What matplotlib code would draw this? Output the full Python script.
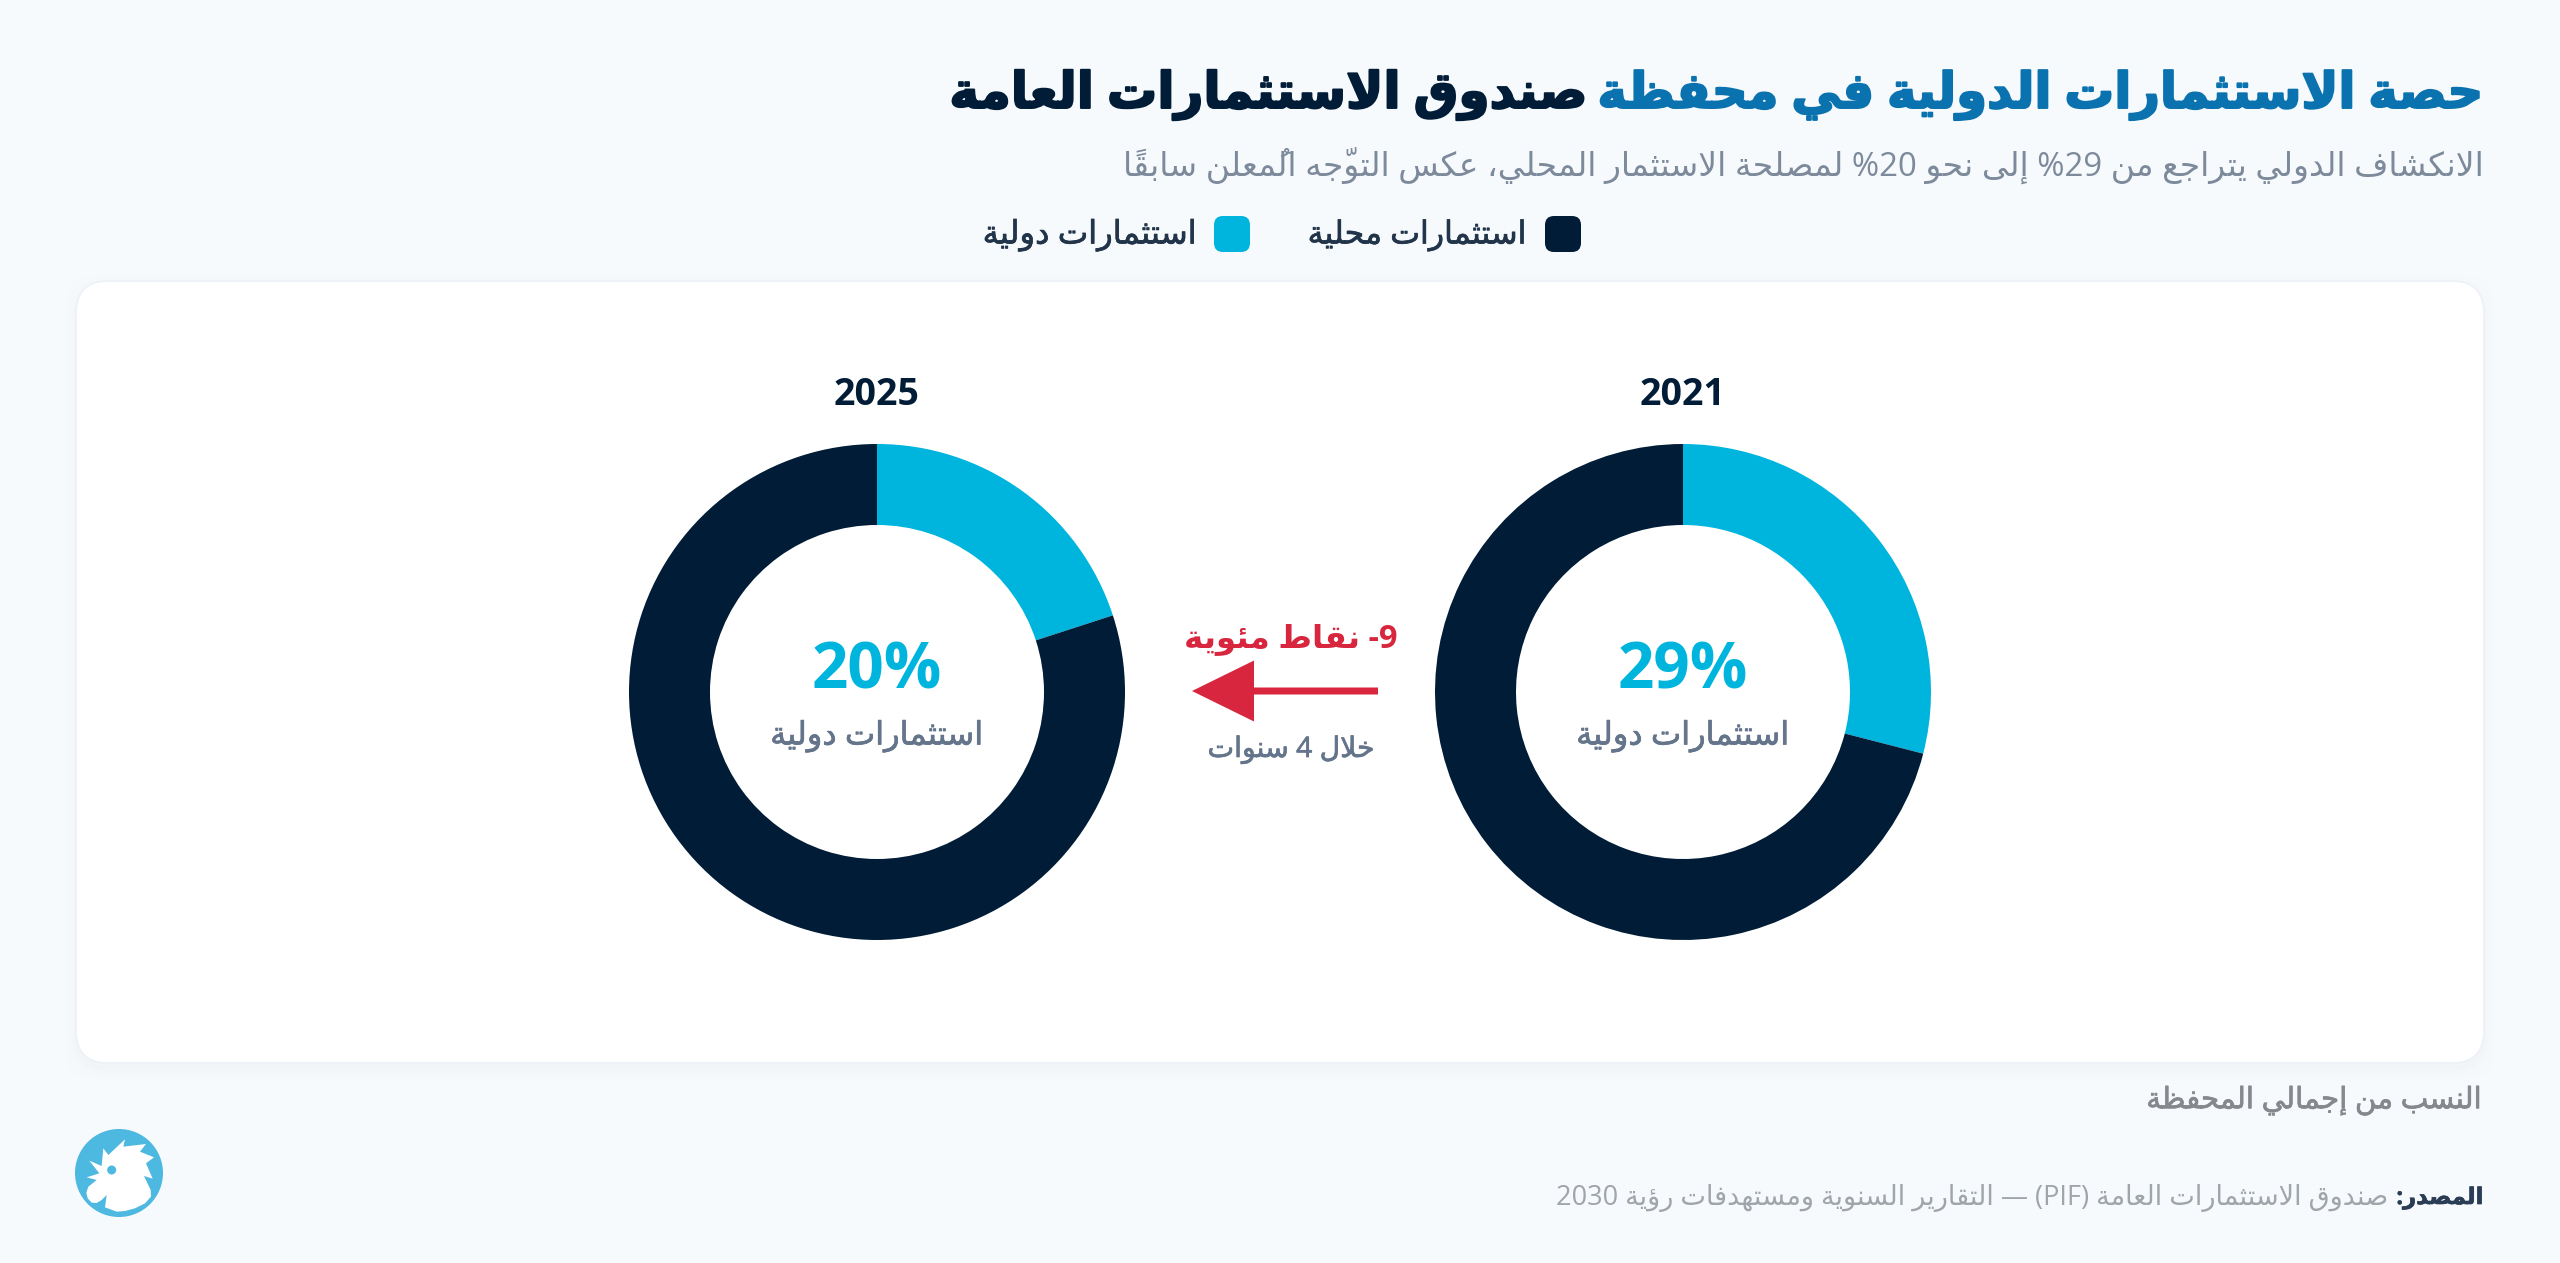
import re
import matplotlib
matplotlib.use("Agg")
import matplotlib.pyplot as plt
import matplotlib.patheffects as pe
from matplotlib.patches import Circle, FancyBboxPatch, Polygon

W, H = 2560, 1263

years = ["2021", "2025"]
intl_share = [29, 20]
intl_label = "استثمارات دولية"
local_label = "استثمارات محلية"
title_blue = "حصة الاستثمارات الدولية في محفظة"
title_dark = "صندوق الاستثمارات العامة"
subtitle = "الانكشاف الدولي يتراجع من 29% إلى نحو 20% لمصلحة الاستثمار المحلي، عكس التوجّه المُعلن سابقاً"
change_label = "نقاط مئوية"
period_label = "خلال 4 سنوات"
note = "النسب من إجمالي المحفظة"
source_head = "المصدر:"
source_text = "صندوق الاستثمارات العامة (PIF) — التقارير السنوية ومستهدفات رؤية 2030"

BG = "#F7FAFD"
NAVY = "#011C36"
CYAN = "#00B5DD"
BLUE = "#0A72AE"
RED = "#D7263D"
SLATE = "#64748B"
FONTS = ["Open Sans", "DejaVu Sans"]

# matplotlib does no arabic shaping, so map letters to presentation forms
# (isolated, final, initial, medial)
DUAL = {"ب": 0xFE8F, "ت": 0xFE95, "ث": 0xFE99, "ج": 0xFE9D, "ح": 0xFEA1, "خ": 0xFEA5,
        "س": 0xFEB1, "ش": 0xFEB5, "ص": 0xFEB9, "ض": 0xFEBD, "ط": 0xFEC1, "ظ": 0xFEC5,
        "ع": 0xFEC9, "غ": 0xFECD, "ف": 0xFED1, "ق": 0xFED5, "ك": 0xFED9, "ل": 0xFEDD,
        "م": 0xFEE1, "ن": 0xFEE5, "ه": 0xFEE9, "ي": 0xFEF1, "ئ": 0xFE89}
RIGHT = {"آ": 0xFE81, "أ": 0xFE83, "ؤ": 0xFE85, "إ": 0xFE87, "ا": 0xFE8D, "ة": 0xFE93,
         "د": 0xFEA9, "ذ": 0xFEAB, "ر": 0xFEAD, "ز": 0xFEAF, "و": 0xFEED, "ى": 0xFEEF}
LAM_ALEF = {"آ": 0xFEF5, "أ": 0xFEF7, "إ": 0xFEF9, "ا": 0xFEFB}
MARKS = "\u064B\u064C\u064D\u064E\u064F\u0650\u0651\u0652"
# the % stays out of the run on purpose: the reference sets it left of the digits
LTR = re.compile(r"[-(]?[0-9A-Za-z]+\)?")


def shape(s):
    clusters = []
    i = 0
    prev_joins = False
    while i < len(s):
        m = LTR.match(s, i)
        if m:
            clusters.append(m.group())
            i = m.end()
            prev_joins = False
            continue
        c = s[i]
        if c in MARKS:
            clusters[-1] += c
            i += 1
            continue
        j = i + 1
        while j < len(s) and s[j] in MARKS:
            j += 1
        nxt = s[j] if j < len(s) else ""
        if c == "ل" and nxt in LAM_ALEF:
            clusters.append(chr(LAM_ALEF[nxt] + (1 if prev_joins else 0)))
            i = j + 1
            prev_joins = False
            continue
        if c in DUAL:
            next_joins = nxt != "" and (nxt in DUAL or nxt in RIGHT)
            form = {(False, False): 0, (True, False): 1, (False, True): 2, (True, True): 3}[(prev_joins, next_joins)]
            clusters.append(chr(DUAL[c] + form))
            prev_joins = True
        elif c in RIGHT:
            clusters.append(chr(RIGHT[c] + (1 if prev_joins else 0)))
            prev_joins = False
        else:
            clusters.append(c)
            prev_joins = False
        i += 1
    return "".join(reversed(clusters))


fig = plt.figure(figsize=(W / 100, H / 100), dpi=100, facecolor=BG)
ax = fig.add_axes([0, 0, 1, 1])
ax.set_xlim(0, W)
ax.set_ylim(H, 0)
ax.axis("off")
renderer = fig.canvas.get_renderer()


def put(x, y, s, width=None, size=20, color=NAVY, weight="normal", ha="center", stroke=0):
    # width is the pixel width wanted, the size gets scaled to reach it
    t = ax.text(x, y, shape(s), fontsize=size, color=color, fontweight=weight,
                ha=ha, va="center", family=FONTS)
    if width:
        t.set_fontsize(size * width / t.get_window_extent(renderer).width)
    if stroke:
        t.set_path_effects([pe.withStroke(linewidth=stroke, foreground=color)])
    return t


# card with soft shadow
for grow, alpha in [(12, 0.003), (8, 0.004), (4, 0.005), (2, 0.006)]:
    ax.add_patch(FancyBboxPatch((76 - grow, 281 - grow + 6), 2408 + 2 * grow, 782 + 2 * grow,
                                boxstyle="round,pad=0,rounding_size=34", fc="#1A3350", ec="none", alpha=alpha))
ax.add_patch(FancyBboxPatch((76, 281), 2408, 782, boxstyle="round,pad=0,rounding_size=32",
                            fc="white", ec="#EDF1F5", lw=1.2))

# header
put(2484, 95, title_blue, width=885, color=BLUE, weight="bold", ha="right", stroke=1.5)
put(1587, 95, title_dark, width=638, color=NAVY, weight="bold", ha="right", stroke=1.5)
put(2484, 165, subtitle, width=1359, color="#7C8A9B", ha="right")

# legend
for x0, col, lab, right, wid in [(1545, NAVY, local_label, 1527, 219), (1214, CYAN, intl_label, 1197, 214)]:
    ax.add_patch(FancyBboxPatch((x0, 216), 36, 36, boxstyle="round,pad=0,rounding_size=9", fc=col, ec="none"))
    put(right, 235, lab, width=wid, color="#22344A", ha="right", stroke=0.5)

# donuts
R = 248
HOLE = 167
centers = [1683, 877]
for cx, year, share in zip(centers, years, intl_share):
    d = fig.add_axes([(cx - R) / W, 1 - (692 + R) / H, 2 * R / W, 2 * R / H])
    d.pie([share, 100 - share], colors=[CYAN, NAVY], startangle=90, counterclock=False,
          radius=1, wedgeprops=dict(width=1 - HOLE / R))
    d.set_xlim(-1, 1)
    d.set_ylim(-1, 1)
    ax.text(cx, 395, year, fontsize=27, fontweight="bold", color=NAVY, ha="center", va="center", family=FONTS)
    ax.text(cx, 672, f"{share}%", fontsize=46, fontweight="bold", color=CYAN, ha="center", va="center", family=FONTS)
    put(cx, 736, intl_label, width=213, color=SLATE, stroke=0.5)

# change marker between the two rings
put(1291, 639, f"{intl_share[1] - intl_share[0]} {change_label}", width=213, color=RED, weight="bold")
ax.arrow(1378, 691, -186, 0, width=7, head_width=61, head_length=62, length_includes_head=True,
         fc=RED, ec="none")
put(1291, 750, period_label, width=167, color=SLATE, stroke=0.5)

# footer
put(2482, 1101, note, width=336, color="#85898E", ha="right", stroke=0.5)
put(2483, 1198, source_head, width=87, color="#2B3D55", weight="bold", ha="right", stroke=0.5)
put(2388, 1198, source_text, width=834, color="#A0A5AB", ha="right")

# logo
ax.add_patch(Circle((119, 1173), 44, fc="#4DB8E0", ec="none"))
head = [(148, 182), (185, 198), (190, 145), (205, 165), (255, 118), (250, 140), (318, 132),
        (300, 155), (342, 172), (318, 190), (338, 236), (312, 228), (332, 270), (333, 290),
        (315, 310), (285, 325), (255, 333), (230, 335), (195, 322), (200, 285), (185, 300),
        (170, 309), (155, 308), (143, 295), (139, 278), (145, 260), (170, 240), (140, 232),
        (178, 220)]
ax.add_patch(Polygon([(40 + px / 3, 1100 + py / 3) for px, py in head], fc="white", ec="none"))
ax.add_patch(Circle((40 + 215 / 3, 1100 + 210 / 3), 4.5, fc="#4DB8E0", ec="none"))

fig.savefig("out.png", dpi=100, facecolor=BG)
